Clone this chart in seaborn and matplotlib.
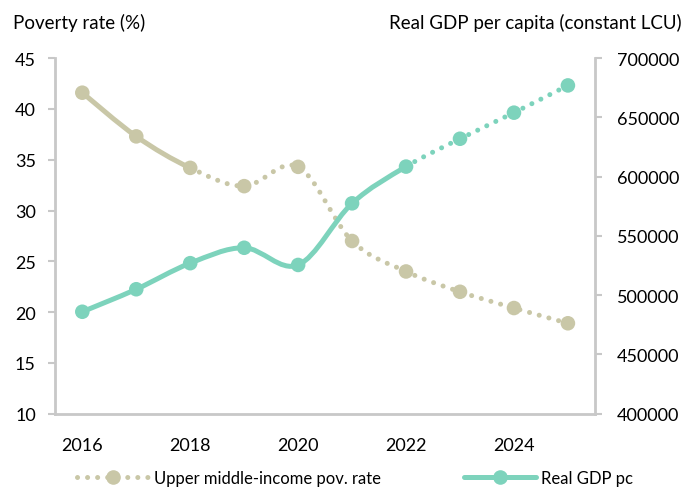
"""
Poverty rate vs real GDP per capita, dual-axis line chart.
"""
import matplotlib
matplotlib.use("Agg")
import matplotlib.pyplot as plt
from matplotlib.path import Path
from matplotlib.patches import PathPatch
from matplotlib.lines import Line2D
import seaborn as sns
import pandas as pd
import numpy as np

# data
years = [2016, 2017, 2018, 2019, 2020, 2021, 2022, 2023, 2024, 2025]
year_labels = ["2016", "2018", "2020", "2022", "2024"]
poverty_rate = [41.6, 37.3, 34.2, 32.4, 34.3, 27.0, 24.0, 22.0, 20.4, 18.9]
gdp_pc = [486000, 505000, 527000, 540000, 525500, 577500, 608500, 632000, 654000, 677000]
poverty_solid_until = 2018   # observed up to here, projection after
gdp_solid_until = 2022

POV_COLOR = "#C9C7A7"
GDP_COLOR = "#7DD3BC"
AXIS_GRAY = "#C8C8C8"

sns.set_theme(style="white")
plt.rcParams["font.family"] = ["Lato", "DejaVu Sans"]
plt.rcParams["text.color"] = "black"
plt.rcParams["xtick.color"] = "black"
plt.rcParams["ytick.color"] = "black"

df = pd.DataFrame({"year": years, "pos": np.arange(len(years)),
                   "poverty": poverty_rate, "gdp": gdp_pc})


def smooth_path(x, y, i0, i1):
    """Catmull-Rom style bezier through points i0..i1 (neighbours from full series)."""
    x = np.asarray(x, float)
    y = np.asarray(y, float)
    n = len(x)
    verts = [(x[i0], y[i0])]
    codes = [Path.MOVETO]
    for i in range(i0, i1):
        p0 = max(i - 1, 0)
        p3 = min(i + 2, n - 1)
        c1 = (x[i] + (x[i + 1] - x[p0]) / 6, y[i] + (y[i + 1] - y[p0]) / 6)
        c2 = (x[i + 1] - (x[p3] - x[i]) / 6, y[i + 1] - (y[p3] - y[i]) / 6)
        verts += [c1, c2, (x[i + 1], y[i + 1])]
        codes += [Path.CURVE4] * 3
    return Path(verts, codes)


def draw_series(ax, col, color, split_year):
    k = years.index(split_year)
    n = len(years)
    solid = PathPatch(smooth_path(df["pos"], df[col], 0, k), fill=False,
                      edgecolor=color, lw=3.6, capstyle="round", joinstyle="round")
    dotted = PathPatch(smooth_path(df["pos"], df[col], k, n - 1), fill=False,
                       edgecolor=color, lw=3.6, linestyle=(0, (0.01, 2.0)),
                       capstyle="round")
    ax.add_patch(solid)
    ax.add_patch(dotted)
    sns.scatterplot(data=df, x="pos", y=col, ax=ax, color=color, s=110,
                    edgecolor="none", zorder=5, legend=False)


fig = plt.figure(figsize=(6.83, 4.89), dpi=100)
ax = fig.add_axes([0.081, 0.152, 0.790, 0.727])
ax2 = ax.twinx()

draw_series(ax, "poverty", POV_COLOR, poverty_solid_until)
draw_series(ax2, "gdp", GDP_COLOR, gdp_solid_until)

ax.set_xlim(-0.5, len(years) - 0.5)
ax.set_ylim(10, 45)
ax.set_yticks(range(10, 50, 5))
ax2.set_ylim(400000, 700000)
ax2.set_yticks(range(400000, 700001, 50000))
ax2.set_yticklabels([str(v) for v in range(400000, 700001, 50000)])

# category axis: tick marks between categories, labels every other year
ax.set_xticks(np.arange(-0.5, len(years), 1.0))
ax.set_xticklabels([])
ax.set_xticks([years.index(int(y)) for y in year_labels], minor=True)
ax.set_xticklabels(year_labels, minor=True)
ax.tick_params(axis="x", which="minor", length=0, pad=17, labelsize=13)
ax.tick_params(axis="x", which="major", length=5, width=1.5, color=AXIS_GRAY,
               direction="out")
ax.tick_params(axis="y", length=5, width=1.5, color=AXIS_GRAY, labelsize=13,
               labelcolor="black", direction="out", pad=9)
ax2.tick_params(axis="y", length=5, width=1.5, color=AXIS_GRAY, labelsize=13,
                labelcolor="black", direction="out", pad=11)

for a in (ax, ax2):
    a.set_xlabel("")
    a.set_ylabel("")
    a.spines["top"].set_visible(False)
    for s in ("left", "right", "bottom"):
        a.spines[s].set_color(AXIS_GRAY)
        a.spines[s].set_linewidth(2)
ax.spines["right"].set_visible(False)
ax2.spines["left"].set_visible(False)
ax2.spines["bottom"].set_visible(False)

fig.text(0.019, 0.953, "Poverty rate (%)", fontsize=13.5, ha="left", va="center")
fig.text(0.998, 0.953, "Real GDP per capita (constant LCU)", fontsize=13.5,
         ha="right", va="center")

handles = [
    Line2D([], [], color=POV_COLOR, lw=3.6, linestyle=(0, (0.01, 2.0)),
           dash_capstyle="round", marker="o", markersize=10.5,
           markeredgecolor="none"),
    Line2D([], [], color=GDP_COLOR, lw=3.6, marker="o", markersize=10.5,
           markeredgecolor="none"),
]
fig.legend(handles, ["Upper middle-income pov. rate", "Real GDP pc"],
           loc="center", bbox_to_anchor=(0.52, 0.02), ncol=2, frameon=False,
           fontsize=12, handlelength=4.3, columnspacing=5, handletextpad=0.3,
           borderpad=0)

fig.savefig("out.png", dpi=100)
